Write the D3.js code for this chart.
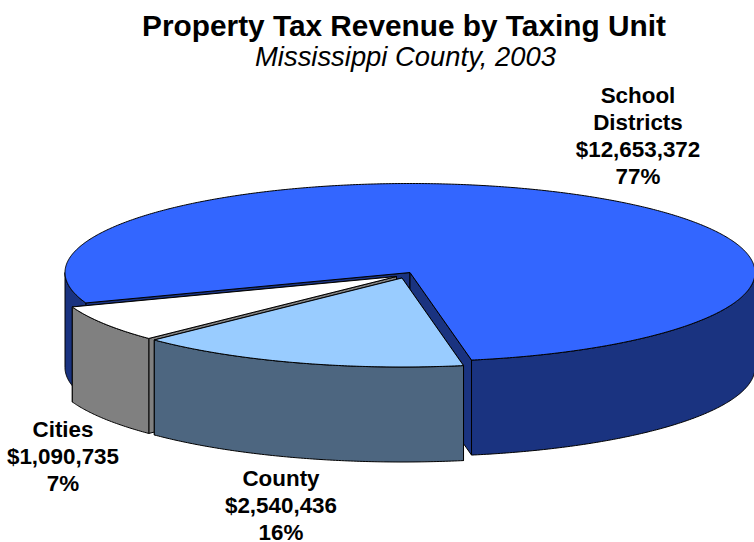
<!DOCTYPE html>
<html><head><meta charset="utf-8">
<script src="https://cdn.jsdelivr.net/npm/d3@7"></script>
<style>html,body{margin:0;padding:0;background:#fff}svg{display:block}
text{font-family:"Liberation Sans",Arial,sans-serif;text-anchor:middle;fill:#000}</style>
</head><body><svg id="c" width="754" height="542"></svg>
<script>
const titleText = "Property Tax Revenue by Taxing Unit";
const subtitleText = "Mississippi County, 2003";
const categories = ["School Districts", "County", "Cities"];
const values = [12653372, 2540436, 1090735];
const labelLines = [["School","Districts","$12,653,372","77%"],["County","$2,540,436","16%"],["Cities","$1,090,735","7%"]];
const topColors = ["#3366ff","#99ccff","#ffffff"];
const sideColors = ["#1a3380","#4d6680","#808080"];
const centers = [[410,272.5],[402,278],[396.5,276.5]];
const labelPos = [[638,102.5],[281,485.5],[63,436.5]];
const depth = 95, rx = 345, ry = 89, lineGap = 27;

const svg = d3.select("#c");
const deg = Math.PI/180;
const slices = d3.pie().sort(null).startAngle(250*deg).endAngle(610*deg)(values);
const xUnit = d3.scaleLinear().domain([-1,1]).range([-rx,rx]);
const yUnit = d3.scaleLinear().domain([-1,1]).range([-ry,ry]);
const line = d3.line().x(d=>d[0]).y(d=>d[1]);
function pt(c,a,dz=0){return [c[0]+xUnit(Math.sin(a)), c[1]-yUnit(Math.cos(a))+dz];}
function arcPts(c,a0,a1,dz=0){const n=Math.max(2,Math.ceil(Math.abs(a1-a0)/(0.5*deg)));
  return d3.range(n+1).map(i=>pt(c,a0+(a1-a0)*i/n,dz));}
function draw(pts,fill){svg.append("path").attr("d",line(pts)+"Z")
  .attr("fill",fill).attr("stroke","#000").attr("stroke-width",1).attr("stroke-linejoin","round");}
function cutFace(c,a,fill){const o=pt(c,a);draw([c,o,[o[0],o[1]+depth],[c[0],c[1]+depth]],fill);}
function outerWall(c,a0,a1,fill){
  // only the part of the rim facing the viewer (bottom half of the ellipse)
  [[90,270],[450,630]].forEach(([lo,hi])=>{
    const s=Math.max(a0,lo*deg), e=Math.min(a1,hi*deg);
    if(e>s) draw(arcPts(c,s,e).concat(arcPts(c,e,s,depth)),fill);
  });
}
function topFace(c,a0,a1,fill){draw([c].concat(arcPts(c,a0,a1)),fill);}

// back to front: school, cities, county
[0,2,1].forEach(i=>{
  const s=slices[i], c=centers[i];
  // the cut face whose rim point is nearer the viewer is painted last
  [s.startAngle,s.endAngle].sort((a,b)=>pt(c,a)[1]-pt(c,b)[1])
    .forEach(a=>cutFace(c,a,sideColors[i]));
  outerWall(c,s.startAngle,s.endAngle,sideColors[i]);
  topFace(c,s.startAngle,s.endAngle,topColors[i]);
});

svg.append("text").attr("x",404).attr("y",35.5).attr("font-size",29.8).attr("font-weight","bold").text(titleText);
svg.append("text").attr("x",405.5).attr("y",65.5).attr("font-size",27.4).attr("font-style","italic").text(subtitleText);
labelLines.forEach((ls,i)=>{
  const t=svg.append("text").attr("font-size",22.4).attr("font-weight","bold");
  ls.forEach((l,j)=>t.append("tspan").attr("x",labelPos[i][0]).attr("y",labelPos[i][1]+j*lineGap).text(l));
});
</script></body></html>
